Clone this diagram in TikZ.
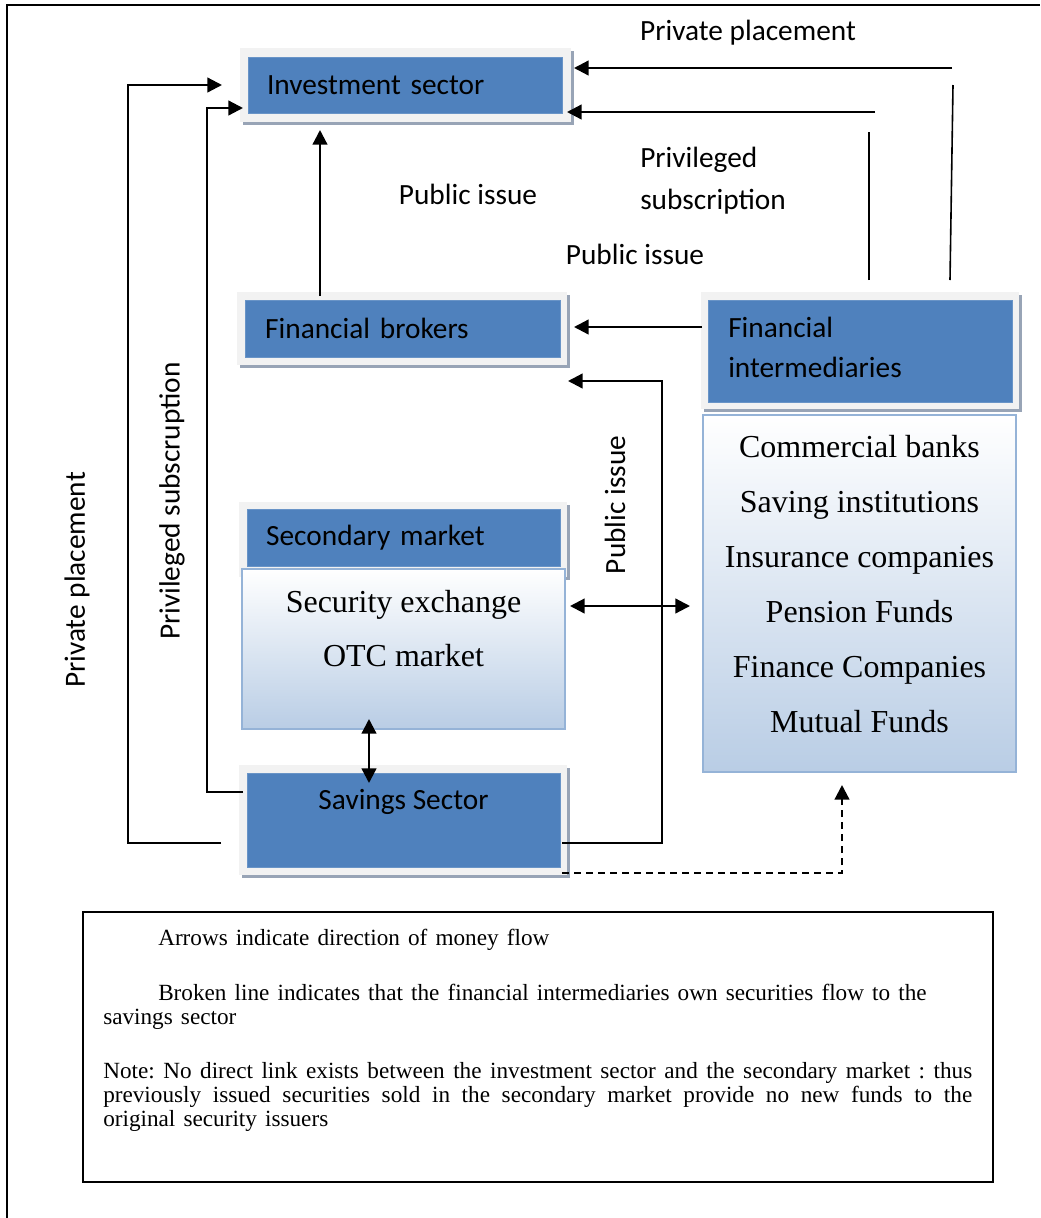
\documentclass[tikz,border=0pt]{standalone}
\usepackage{fontspec}
\setmainfont{Liberation Serif}
\newfontfamily\calib{Carlito}
\usetikzlibrary{arrows.meta}
\definecolor{boxblue}{HTML}{4F81BD}
\definecolor{framegray}{HTML}{F2F2F2}
\definecolor{shadowgray}{HTML}{98A4B6}
\definecolor{listblue}{HTML}{B9CDE5}
\definecolor{listedge}{HTML}{95B3D7}
\tikzset{
  bluebox/.style={rectangle, fill=boxblue, draw=boxblue!85!white, line width=0.5pt,
    inner sep=0pt, align=left, font=\calib\fontsize{22}{30}\selectfont},
  boxtext/.style={inner sep=0pt, align=left, font=\calib\fontsize{22}{30}\selectfont},
  shadowrect/.style={fill=shadowgray},
  framerect/.style={fill=framegray},
  listbox/.style={rectangle, draw=listedge, line width=1.2pt, top color=white,
    bottom color=listblue, inner sep=0pt},
  listtext/.style={inner sep=0pt, align=center},
  lbl/.style={font=\calib\fontsize{22}{31.5}\selectfont, inner sep=0pt},
  flow/.style={line width=1.7pt, -{Triangle[length=11pt,width=11pt]}},
  biflow/.style={line width=1.7pt, {Triangle[length=11pt,width=11pt]}-{Triangle[length=11pt,width=11pt]}},
  plainline/.style={line width=1.2pt},
  brokenflow/.style={line width=1.7pt, dash pattern=on 5pt off 4pt, -{Triangle[length=11pt,width=11pt]}},
}
\begin{document}
\begin{tikzpicture}[x=0.75pt, y=-0.75pt]
\useasboundingbox (0,0) rectangle (1040,1218);

% outer frame lines
\draw[line width=1.5pt] (7,1218) -- (7,5) -- (1040,5);

% frames with shadows
\fill[shadowrect] (243,51) rectangle (574,125);
\fill[framerect] (240,48) rectangle (571,122);
\fill[shadowrect] (240,295) rectangle (570,368);
\fill[framerect] (237,292) rectangle (567,365);
\fill[shadowrect] (704,295) rectangle (1022,412);
\fill[framerect] (701,292) rectangle (1019,409);
\fill[shadowrect] (242,505) rectangle (570,580);
\fill[framerect] (239,502) rectangle (567,577);
\fill[shadowrect] (242,768) rectangle (570,878);
\fill[framerect] (239,765) rectangle (567,875);

% blue boxes
\node[bluebox, minimum width=235.5pt, minimum height=42pt, text width=207pt] (inv) at (405,85) {Investment sector};
\node[bluebox, minimum width=236.25pt, minimum height=42.75pt, text width=206pt] (brk) at (402.5,328.5) {Financial brokers};
\node[bluebox, minimum width=228pt, minimum height=76.5pt] (fi) at (860,351) {};
\node[boxtext, anchor=west] (fitxt) at (728,347) {Financial\\intermediaries};
\node[bluebox, minimum width=234.75pt, minimum height=42.75pt, text width=206pt] (sec) at (403.5,538) {Secondary market};
\node[bluebox, minimum width=234.75pt, minimum height=70.5pt] (sav) at (403.5,820) {};
\node[boxtext] (savtxt) at (403.5,802) {Savings Sector};

% list boxes
\node[listbox, minimum width=242.25pt, minimum height=120pt] (secx) at (403.5,649) {};
\node[listtext, font=\fontsize{24}{40.5}\selectfont] (secxtxt) at (403.5,629) {Security exchange\\OTC market};
\node[listbox, minimum width=234.75pt, minimum height=267.75pt] (fil) at (859.5,593.5) {};
\node[listtext, font=\fontsize{24}{41.25}\selectfont] (filtxt) at (859.5,584) {Commercial banks\\Saving institutions\\Insurance companies\\Pension Funds\\Finance Companies\\Mutual Funds};

% labels
\node[lbl] (lPP) at (748,33) {Private placement};
\node[lbl, align=left, anchor=west] (lPS) at (640,181) {Privileged\\subscription};
\node[lbl] (lPI1) at (468,194) {Public issue};
\node[lbl] (lPI2) at (635,254) {Public issue};
\node[lbl, rotate=90] (lPPv) at (77,580) {Private placement};
\node[lbl, rotate=90] (lPSv) at (172,501) {Privileged subscruption};
\node[lbl, rotate=90] (lPIv) at (615,505) {Public issue};

% connector end points
\coordinate (ppA) at (221,843);
\coordinate (ppB) at (222,85);
\coordinate (psA) at (243,792);
\coordinate (psB) at (243,108);
\coordinate (rpA) at (950,280);
\coordinate (rpB) at (953,85);
\coordinate (rpC) at (952,68);
\coordinate (rpD) at (574,68);
\coordinate (rsA) at (869,280);
\coordinate (rsB) at (869,132);
\coordinate (rsC) at (875,112);
\coordinate (rsD) at (567,112);
\coordinate (upA) at (320,296);
\coordinate (upB) at (320,130);
\coordinate (fbA) at (702,327);
\coordinate (fbB) at (574,327);
\coordinate (piA) at (562,843);
\coordinate (piB) at (568,381);
\coordinate (sfA) at (570,606);
\coordinate (sfB) at (690,606);
\coordinate (ssA) at (369,719);
\coordinate (ssB) at (369,783);
\coordinate (dsA) at (562,873);
\coordinate (dsB) at (842,785);

% connectors
\draw[flow] (ppA) -- (128,843) -- (128,85) -- (ppB);
\draw[flow] (psA) -- (207,792) -- (207,108) -- (psB);
\draw[plainline] (rpA) -- (rpB);
\draw[flow] (rpC) -- (rpD);
\draw[plainline] (rsA) -- (rsB);
\draw[flow] (rsC) -- (rsD);
\draw[flow] (upA) -- (upB);
\draw[flow] (fbA) -- (fbB);
\draw[flow] (piA) -- (662,843) -- (662,381) -- (piB);
\draw[biflow] (sfA) -- (sfB);
\draw[biflow] (ssA) -- (ssB);
\draw[brokenflow] (dsA) -- (842,873) -- (dsB);

% legend
\draw[line width=1.5pt] (83,912) rectangle (993,1182);
\node[anchor=north west, inner sep=0pt, text width=651.75pt, font=\fontsize{17.4}{18}\selectfont] (legtext) at (103,929) {%
\frenchspacing\setlength{\parindent}{0pt}\setlength{\parskip}{0pt}%
\spaceskip=0.35em plus 1em minus 0.1em\relax
\hspace*{41.25pt}Arrows indicate direction of money flow\par\vspace{23pt}
\hspace*{41.25pt}Broken line indicates that the financial intermediaries own securities flow to the\par
savings sector\par\vspace{23pt}
\hbox to 651.75pt{Note: No direct link exists between the investment sector and the secondary market : thus}
\hbox to 651.75pt{previously issued securities sold in the secondary market provide no new funds to the}
original security issuers\par};
\end{tikzpicture}
\end{document}
